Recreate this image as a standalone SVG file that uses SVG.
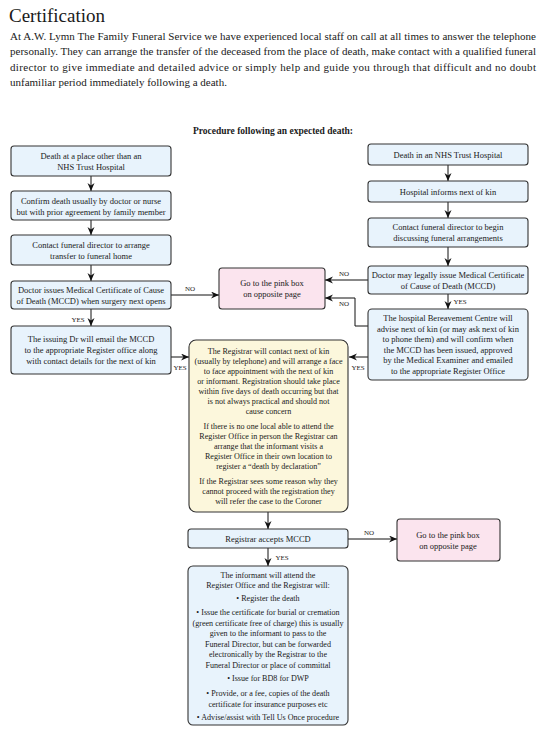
<svg xmlns="http://www.w3.org/2000/svg" width="546" height="741" viewBox="0 0 546 741" font-family="'Liberation Serif', 'Times New Roman', serif">
<defs>
<marker id="ah" markerUnits="userSpaceOnUse" markerWidth="9" markerHeight="8" refX="8" refY="3.5" orient="auto">
<path d="M0,0 L8,3.5 L0,7 L2.5,3.5 Z" fill="#111"/>
</marker>
</defs>
<style>
text{font-family:'Liberation Serif','Times New Roman',serif;fill:#1a1a1a}
.t{font-size:8.5px;text-anchor:middle}
.s{font-size:8.1px;text-anchor:middle}
.lbl{font-size:7px;text-anchor:middle}
.p{font-size:11px}
.b{fill:#e8f3fc;stroke:#333;stroke-width:1.1}
.pk{fill:#fbe4ee;stroke:#333;stroke-width:1.1}
.y{fill:#fcf7dc;stroke:#333;stroke-width:1.1}
.c{fill:none;stroke:#111;stroke-width:1;marker-end:url(#ah)}
</style>
<rect width="546" height="741" fill="#fff"/>
<text x="9" y="22" style="font-size:19px">Certification</text>
<text class="p" x="10" y="39.5" textLength="526" lengthAdjust="spacing">At A.W. Lymn The Family Funeral Service we have experienced local staff on call at all times to answer the telephone</text>
<text class="p" x="10" y="55" textLength="526" lengthAdjust="spacing">personally. They can arrange the transfer of the deceased from the place of death, make contact with a qualified funeral</text>
<text class="p" x="10" y="70.5" textLength="526" lengthAdjust="spacing">director to give immediate and detailed advice or simply help and guide you through that difficult and no doubt</text>
<text class="p" x="10" y="86">unfamiliar period immediately following a death.</text>
<text x="273" y="134" style="font-size:9.5px;font-weight:bold;text-anchor:middle">Procedure following an expected death:</text>

<g id="connectors">
<line class="c" x1="91" y1="176" x2="91" y2="191"/>
<line class="c" x1="91" y1="220" x2="91" y2="235"/>
<line class="c" x1="91" y1="265" x2="91" y2="281"/>
<line class="c" x1="91" y1="309" x2="91" y2="326"/>
<line class="c" x1="171" y1="295" x2="219" y2="295"/>
<line class="c" x1="171" y1="357" x2="189" y2="357"/>
<line class="c" x1="448" y1="165" x2="448" y2="181"/>
<line class="c" x1="448" y1="202" x2="448" y2="218"/>
<line class="c" x1="448" y1="247" x2="448" y2="266"/>
<line class="c" x1="448" y1="294" x2="448" y2="309"/>
<line class="c" x1="368" y1="280" x2="325" y2="280"/>
<polyline class="c" points="368,326 355,326 355,298 325,298"/>
<line class="c" x1="368" y1="357" x2="349" y2="357"/>
<line class="c" x1="268" y1="512" x2="268" y2="529"/>
<line class="c" x1="348" y1="539" x2="397" y2="539"/>
<line class="c" x1="268" y1="548" x2="268" y2="566"/>
<text class="lbl" x="78" y="322">YES</text>
<text class="lbl" x="190" y="291">NO</text>
<text class="lbl" x="180" y="370">YES</text>
<text class="lbl" x="460" y="304">YES</text>
<text class="lbl" x="344" y="276">NO</text>
<text class="lbl" x="344" y="306">NO</text>
<text class="lbl" x="358" y="370">YES</text>
<text class="lbl" x="369" y="535">NO</text>
<text class="lbl" x="282" y="560">YES</text>
</g>

<g id="L1"><rect class="b" x="11" y="146" width="160" height="30" rx="3"/>
<text class="t" x="91" y="159">Death at a place other than an</text>
<text class="t" x="91" y="170">NHS Trust Hospital</text></g>
<g id="L2"><rect class="b" x="11" y="191" width="160" height="29" rx="3"/>
<text class="t" x="91" y="204">Confirm death usually by doctor or nurse</text>
<text class="t" x="91" y="215">but with prior agreement by family member</text></g>
<g id="L3"><rect class="b" x="11" y="235" width="160" height="30" rx="3"/>
<text class="t" x="91" y="248">Contact funeral director to arrange</text>
<text class="t" x="91" y="259">transfer to funeral home</text></g>
<g id="L4"><rect class="b" x="11" y="281" width="160" height="28" rx="3"/>
<text class="t" x="91" y="293">Doctor issues Medical Certificate of Cause</text>
<text class="t" x="91" y="304">of Death (MCCD) when surgery next opens</text></g>
<g id="L5"><rect class="b" x="11" y="326" width="160" height="48" rx="3"/>
<text class="t" x="91" y="342">The issuing Dr will email the MCCD</text>
<text class="t" x="91" y="353">to the appropriate Register office along</text>
<text class="t" x="91" y="364">with contact details for the next of kin</text></g>

<g id="P1"><rect class="pk" x="219" y="268" width="106" height="41" rx="3"/>
<text class="t" x="272" y="286">Go to the pink box</text>
<text class="t" x="272" y="297">on opposite page</text></g>

<g id="R1"><rect class="b" x="368" y="144" width="160" height="21" rx="3"/>
<text class="t" x="448" y="157.5">Death in an NHS Trust Hospital</text></g>
<g id="R2"><rect class="b" x="368" y="181" width="160" height="21" rx="3"/>
<text class="t" x="448" y="194.5">Hospital informs next of kin</text></g>
<g id="R3"><rect class="b" x="368" y="218" width="160" height="29" rx="3"/>
<text class="t" x="448" y="230">Contact funeral director to begin</text>
<text class="t" x="448" y="241">discussing funeral arrangements</text></g>
<g id="R4"><rect class="b" x="368" y="266" width="160" height="28" rx="3"/>
<text class="t" x="448" y="278">Doctor may legally issue Medical Certificate</text>
<text class="t" x="448" y="289">of Cause of Death (MCCD)</text></g>
<g id="R5"><rect class="b" x="368" y="309" width="160" height="71" rx="4"/>
<text class="t" x="448" y="321">The hospital Bereavement Centre will</text>
<text class="t" x="448" y="331.5">advise next of kin (or may ask next of kin</text>
<text class="t" x="448" y="342">to phone them) and will confirm when</text>
<text class="t" x="448" y="352.5">the MCCD has been issued, approved</text>
<text class="t" x="448" y="363">by the Medical Examiner and emailed</text>
<text class="t" x="448" y="373.5">to the appropriate Register Office</text></g>

<g id="Y"><rect class="y" x="189" y="340" width="159" height="172" rx="7"/>
<text class="s" x="268.5" y="354">The Registrar will contact next of kin</text>
<text class="s" x="268.5" y="364">(usually by telephone) and will arrange a face</text>
<text class="s" x="268.5" y="374">to face appointment with the next of kin</text>
<text class="s" x="268.5" y="384">or informant. Registration should take place</text>
<text class="s" x="268.5" y="394">within five days of death occurring but that</text>
<text class="s" x="268.5" y="404">is not always practical and should not</text>
<text class="s" x="268.5" y="414">cause concern</text>
<text class="s" x="268.5" y="429">If there is no one local able to attend the</text>
<text class="s" x="268.5" y="439">Register Office in person the Registrar can</text>
<text class="s" x="268.5" y="449">arrange that the informant visits a</text>
<text class="s" x="268.5" y="459">Register Office in their own location to</text>
<text class="s" x="268.5" y="469">register a “death by declaration”</text>
<text class="s" x="268.5" y="484">If the Registrar sees some reason why they</text>
<text class="s" x="268.5" y="494">cannot proceed with the registration they</text>
<text class="s" x="268.5" y="504">will refer the case to the Coroner</text></g>

<g id="A"><rect class="b" x="188" y="529" width="160" height="19" rx="3"/>
<text class="t" x="268" y="541.5">Registrar accepts MCCD</text></g>

<g id="P2"><rect class="pk" x="397" y="519" width="103" height="42" rx="3"/>
<text class="t" x="448" y="537.5">Go to the pink box</text>
<text class="t" x="448" y="548.5">on opposite page</text></g>

<g id="B"><rect class="b" x="188" y="566" width="160" height="159" rx="5"/>
<text class="s" x="268" y="578">The informant will attend the</text>
<text class="s" x="268" y="588">Register Office and the Registrar will:</text>
<text class="s" x="268" y="601">• Register the death</text>
<text class="s" x="268" y="615">• Issue the certificate for burial or cremation</text>
<text class="s" x="268" y="625.5">(green certificate free of charge) this is usually</text>
<text class="s" x="268" y="636">given to the informant to pass to the</text>
<text class="s" x="268" y="646.5">Funeral Director, but can be forwarded</text>
<text class="s" x="268" y="657">electronically by the Registrar to the</text>
<text class="s" x="268" y="667.5">Funeral Director or place of committal</text>
<text class="s" x="268" y="681">• Issue for BD8 for DWP</text>
<text class="s" x="268" y="696">• Provide, or a fee, copies of the death</text>
<text class="s" x="268" y="706.5">certificate for insurance purposes etc</text>
<text class="s" x="268" y="720">• Advise/assist with Tell Us Once procedure</text></g>
</svg>
